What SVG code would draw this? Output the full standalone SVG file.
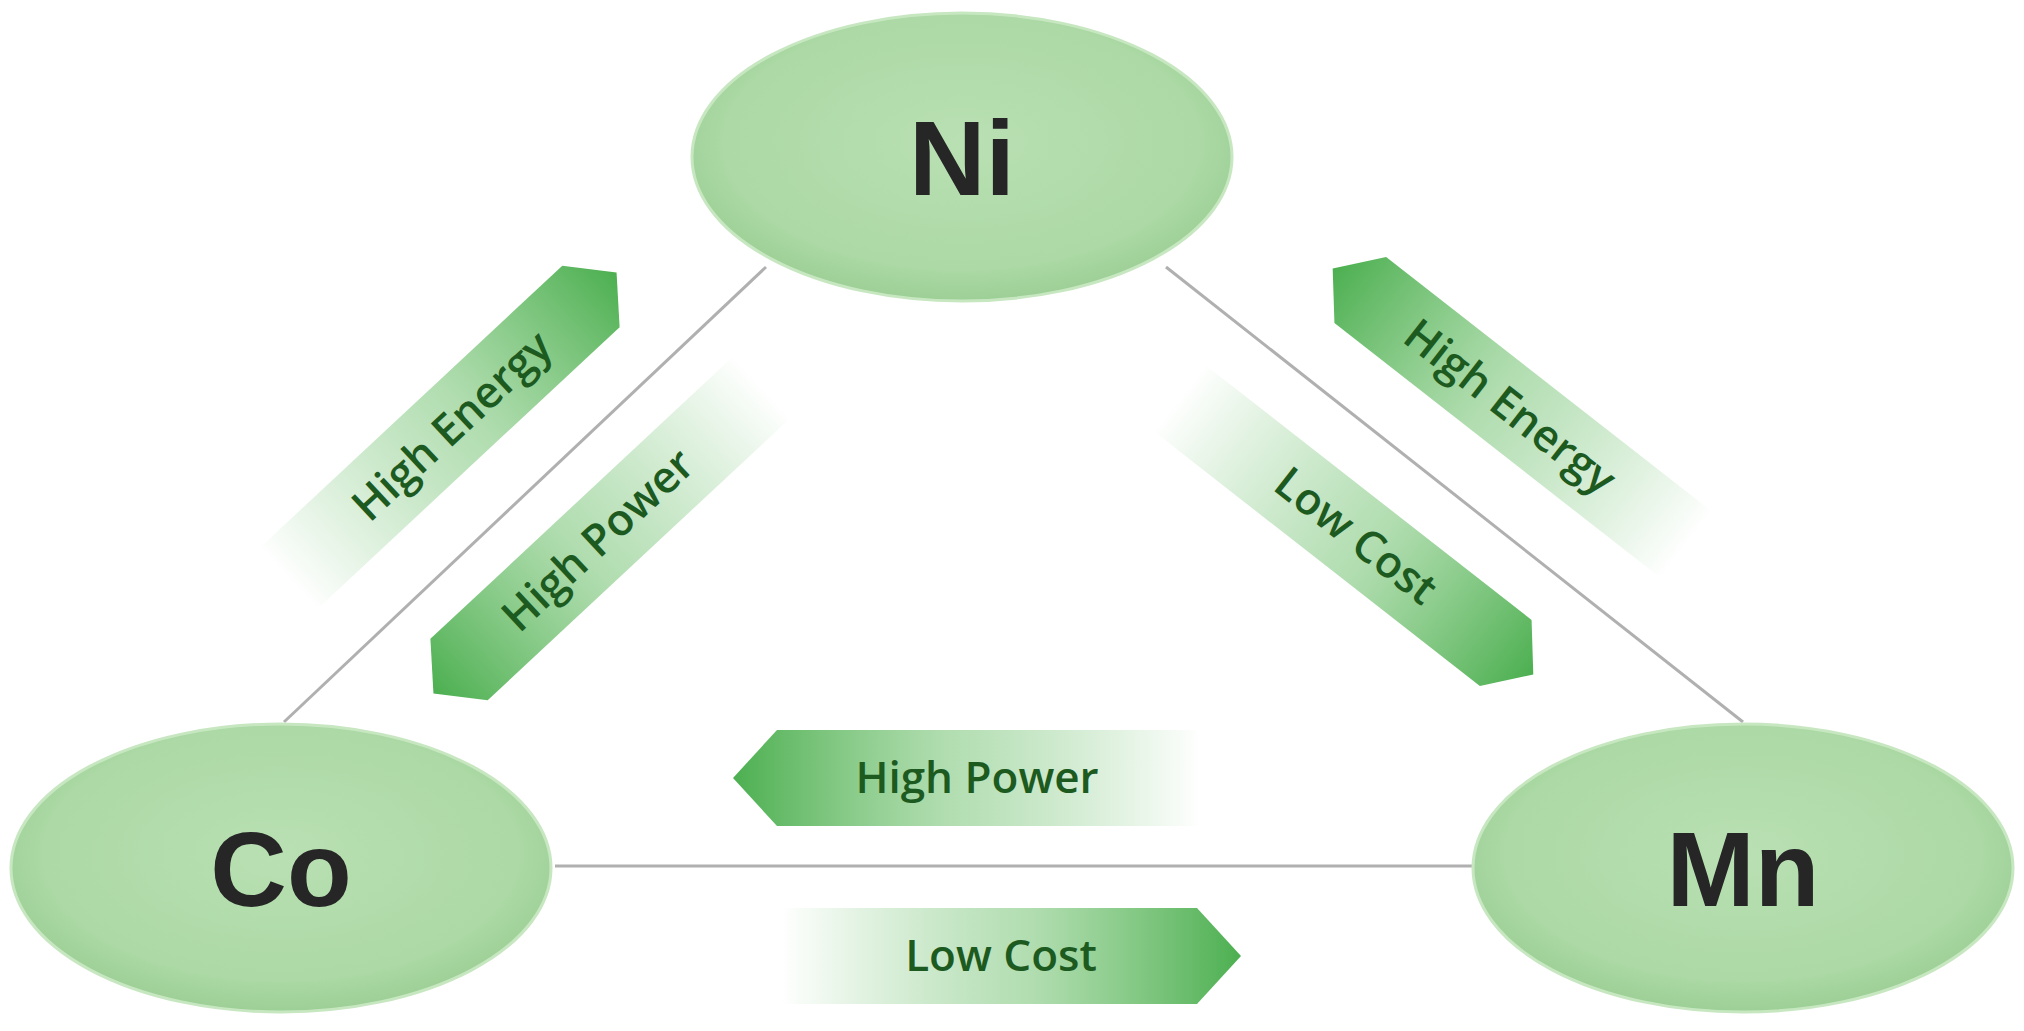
<svg xmlns="http://www.w3.org/2000/svg" width="2024" height="1031" viewBox="0 0 2024 1031">
<defs>
<radialGradient id="ell" cx="50%" cy="45%" r="55%">
<stop offset="0" stop-color="#b9e0b3"/><stop offset="0.8" stop-color="#acd9a5"/><stop offset="1" stop-color="#9ccf95"/>
</radialGradient>
<linearGradient id="gR" x1="0" y1="0" x2="1" y2="0">
<stop offset="0" stop-color="#5cb85c" stop-opacity="0"/><stop offset="0.55" stop-color="#7cc67a" stop-opacity="0.6"/><stop offset="1" stop-color="#4caf50"/>
</linearGradient>
<linearGradient id="gL" x1="1" y1="0" x2="0" y2="0">
<stop offset="0" stop-color="#5cb85c" stop-opacity="0"/><stop offset="0.55" stop-color="#7cc67a" stop-opacity="0.6"/><stop offset="1" stop-color="#4caf50"/>
</linearGradient>
<polygon id="aR" points="-225,-42 190,-42 225,0 190,42 -225,42"/>
<polygon id="aL" points="-190,-42 225,-42 225,42 -190,42 -225,0"/>
</defs>
<style>
.node{fill:url(#ell);stroke:#c7e7c1;stroke-width:3}
.nt{font-family:"Liberation Sans",Arial,sans-serif;font-weight:bold;font-size:106px;fill:#262626;text-anchor:middle}
.lt{font-family:"Open Sans","Noto Sans",sans-serif;font-weight:600;font-size:44px;fill:#1c5a1f;text-anchor:middle}
.edge{stroke:#b0b0b0;stroke-width:3;fill:none}
</style>
<rect width="2024" height="1031" fill="#fff"/>
<g id="connectors">
<line class="edge" x1="766" y1="267" x2="284" y2="722"/>
<line class="edge" x1="1166" y1="267" x2="1743" y2="722"/>
<line class="edge" x1="555" y1="866" x2="1475" y2="866"/>
</g>
<g id="labels">
<g transform="translate(452,426) rotate(-43)"><use href="#aR" fill="url(#gR)"/><text class="lt" x="0" y="15">High Energy</text></g>
<g transform="translate(598,540) rotate(-43)"><use href="#aL" fill="url(#gL)"/><text class="lt" x="0" y="15">High Power</text></g>
<g transform="translate(1510,407) rotate(38)"><use href="#aL" fill="url(#gL)"/><text class="lt" x="0" y="15">High Energy</text></g>
<g transform="translate(1356,536) rotate(38)"><use href="#aR" fill="url(#gR)"/><text class="lt" x="0" y="15">Low Cost</text></g>
<g transform="translate(967,778)"><polygon points="-234,0 -190,-48 234,-48 234,48 -190,48" fill="url(#gL)"/><text class="lt" x="10" y="15">High Power</text></g>
<g transform="translate(1011,956)"><polygon points="-230,-48 186,-48 230,0 186,48 -230,48" fill="url(#gR)"/><text class="lt" x="-10" y="15">Low Cost</text></g>
</g>
<g id="Ni"><ellipse class="node" cx="962" cy="157" rx="270" ry="144"/><text class="nt" x="962" y="195">Ni</text></g>
<g id="Co"><ellipse class="node" cx="281" cy="868" rx="270" ry="144"/><text class="nt" x="281" y="906">Co</text></g>
<g id="Mn"><ellipse class="node" cx="1743" cy="868" rx="270" ry="144"/><text class="nt" x="1743" y="906">Mn</text></g>
</svg>
